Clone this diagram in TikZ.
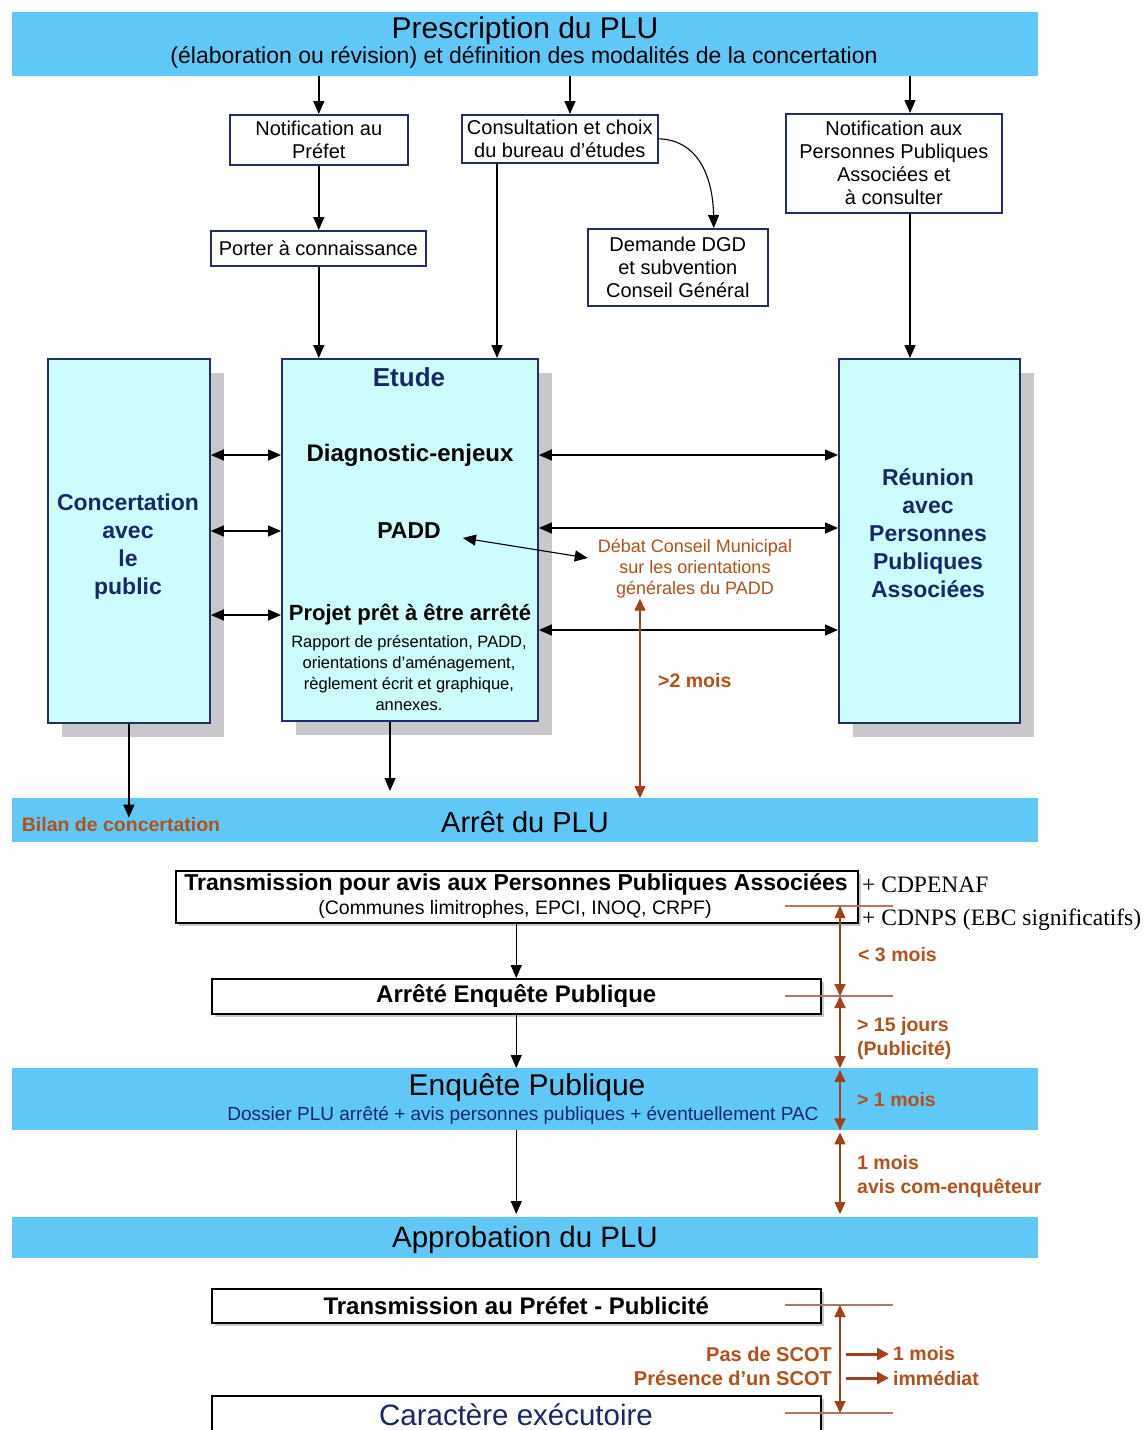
\documentclass[tikz,border=0pt]{standalone}
\usepackage{fontspec}
\setmainfont{Liberation Sans}
\newfontfamily\seriffam{Liberation Serif}
\usetikzlibrary{arrows.meta,shadows,calc}
\definecolor{bandblue}{RGB}{96,200,246}
\definecolor{cyanfill}{RGB}{204,252,252}
\definecolor{navy}{RGB}{25,40,105}
\definecolor{boxline}{RGB}{35,45,105}
\definecolor{brownarr}{RGB}{160,65,25}
\definecolor{browntxt}{RGB}{180,80,25}
\definecolor{tickcol}{RGB}{175,120,95}
\definecolor{shadowgray}{RGB}{200,200,204}
\newcommand\fsz[2]{\fontsize{#1}{#2}\selectfont}
\begin{document}
\begin{tikzpicture}[x=1pt,y=-1pt,
  band/.style={fill=bandblue, draw=none, inner sep=0, anchor=north west},
  smallbox/.style={draw=boxline, line width=1.6pt, fill=white, inner sep=0, anchor=north west, align=center, font=\fsz{20}{23}},
  bigbox/.style={draw=boxline, line width=1.8pt, fill=cyanfill, inner sep=0, anchor=north west,
     drop shadow={shadow xshift=14pt, shadow yshift=-14pt, fill=shadowgray, opacity=1}},
  flowbox/.style={draw=black, line width=1.5pt, fill=white, inner sep=0, anchor=north west, align=center,
     drop shadow={shadow xshift=3pt, shadow yshift=-3pt, fill=shadowgray, opacity=1}},
  txt/.style={inner sep=0, align=center},
  arr/.style={-{Triangle[length=13pt,width=11pt]}, line width=1.4pt},
  darr/.style={{Triangle[length=13pt,width=11pt]}-{Triangle[length=13pt,width=11pt]}, line width=1.4pt},
  barr/.style={draw=brownarr, {Triangle[length=12pt,width=11pt]}-{Triangle[length=12pt,width=11pt]}, line width=1.4pt},
  sarr/.style={draw=brownarr, -{Triangle[length=12pt,width=12pt]}, line width=3pt},
  tick/.style={draw=tickcol, line width=1.6pt},
  blab/.style={inner sep=0, anchor=west, align=left, text=browntxt, font=\bfseries\fsz{19.5}{24}}
]
\useasboundingbox (0,0) rectangle (1147,1430);
\fill[white] (0,0) rectangle (1147,1430);

% ---- Prescription band
\node[band, minimum width=1026, minimum height=64] (presc) at (12,12) {};
\node[txt, font=\fsz{30}{34}] (prescT) at (525,31) {Prescription du PLU};
\node[txt, font=\fsz{23}{26}] (prescS) at (524,57) {(élaboration ou révision) et définition des modalités de la concertation};

% ---- small boxes
\node[smallbox, minimum width=178, minimum height=50] (notifP) at (229,114) {Notification au\\Préfet};
\node[smallbox, minimum width=196, minimum height=48] (consult) at (461,114) {Consultation et choix\\du bureau d'études};
\node[smallbox, minimum width=216, minimum height=99] (notifPPA) at (785,113) {Notification aux\\Personnes Publiques\\Associées et\\à consulter};
\node[smallbox, minimum width=215, minimum height=35] (porter) at (210,230) {Porter à connaissance};
\node[smallbox, minimum width=180, minimum height=77] (demande) at (587,228) {Demande DGD\\et subvention\\Conseil Général};

% ---- big boxes
\node[bigbox, minimum width=162, minimum height=364] (conc) at (47,358) {};
\node[bigbox, minimum width=256, minimum height=362] (etude) at (281,358) {};
\node[bigbox, minimum width=181, minimum height=364] (reun) at (838,358) {};

\node[txt, font=\bfseries\fsz{23}{28}, text=navy] (concT) at (128,547) {Concertation\\avec\\le\\public};
\node[txt, font=\bfseries\fsz{23}{28}, text=navy] (reunT) at (928,533) {Réunion\\avec\\Personnes\\Publiques\\Associées};

\node[txt, font=\bfseries\fsz{26}{30}, text=navy] (etudeT) at (409,377) {Etude};
\node[txt, font=\bfseries\fsz{24}{26}] (diag) at (410,455) {Diagnostic-enjeux};
\node[txt, font=\bfseries\fsz{23}{26}] (padd) at (409,531) {PADD};
\node[txt, font=\bfseries\fsz{22}{26}] (projet) at (410,615) {Projet prêt à être arrêté};
\node[txt, font=\fsz{16.5}{21}] (rapport) at (409,673) {Rapport de présentation, PADD,\\orientations d'aménagement,\\règlement écrit et graphique,\\annexes.};

\node[txt, font=\fsz{18}{21}, text=browntxt] (debat) at (695,569) {Débat Conseil Municipal\\sur les orientations\\générales du PADD};
\node[blab] (deuxmois) at (658,681) {>2 mois};

% ---- Arrêt band
\node[band, minimum width=1026, minimum height=44] (arret) at (12,798) {};
\node[txt, font=\fsz{29}{32}] (arretT) at (525,822) {Arrêt du PLU};
\node[txt, font=\bfseries\fsz{19.5}{22}, text=browntxt] (bilan) at (121,825) {Bilan de concertation};

% ---- arrows top part
\draw[arr] (presc.south -| notifP.north) -- (notifP.north);
\draw[arr] (presc.south -| 570,0) -- (consult.north -| 570,0);
\draw[arr] (presc.south -| 910,0) -- (notifPPA.north -| 910,0);
\draw[arr] (notifP.south) -- (porter.north -| notifP.south);
\draw[arr, line width=1.1pt] (consult.east) .. controls (700,140) and (713,180) .. ($(demande.north)+(36,0)$);
\draw[arr] (porter.south -| notifP.south) -- (etude.north -| notifP.south);
\draw[arr] (consult.south -| 497,0) -- (etude.north -| 497,0);
\draw[arr] (notifPPA.south -| 910,0) -- (reun.north -| 910,0);

% double arrows
\draw[darr] (conc.east |- diag) -- (etude.west |- diag);
\draw[darr] (conc.east |- padd) -- (etude.west |- padd);
\draw[darr] (conc.east |- projet) -- (etude.west |- projet);
\draw[darr] (etude.east |- diag) -- (reun.west |- diag);
\draw[darr] ($(etude.east |- padd)+(0,-3)$) -- ($(reun.west |- padd)+(0,-3)$);
\draw[darr] ($(etude.east |- projet)+(0,15)$) -- ($(reun.west |- projet)+(0,15)$);
\draw[darr, line width=1.1pt] ($(padd.east)+(22,7)$) -- ($(debat.west)+(-10,-11)$);
\draw[barr] (debat.south -| 640,0) -- (arret.north -| 640,0);

\draw[arr] (conc.south) -- (conc.south |- bilan.north);
\draw[arr] (etude.south -| 390,0) -- ($(arret.north -| 390,0)+(0,-7)$);

% ---- Transmission PPA
\node[flowbox, minimum width=682, minimum height=52] (trans) at (175,870) {};
\node[txt, font=\bfseries\fsz{23}{26}] (transT) at (516,884) {Transmission pour avis aux Personnes Publiques Associées};
\node[txt, font=\fsz{19.5}{22}] (transS) at (515,909) {(Communes limitrophes, EPCI, INOQ, CRPF)};
\node[inner sep=0, anchor=west, font=\seriffam\fsz{23.5}{26}] (cdpenaf) at (862,885) {+ CDPENAF};
\node[inner sep=0, anchor=west, font=\seriffam\fsz{23.5}{26}] (cdnps) at (862,920) {+ CDNPS (EBC significatifs)};

% ---- Arrêté EP
\node[flowbox, minimum width=609, minimum height=35, font=\bfseries\fsz{24}{26}] (arrete) at (211,978) {Arrêté Enquête Publique};

% ---- Enquête band
\node[band, minimum width=1026, minimum height=62] (enq) at (12,1068) {};
\node[txt, font=\fsz{30}{32}] (enqT) at (527,1088) {Enquête Publique};
\node[txt, font=\fsz{19}{20}, text=navy] (enqS) at (523,1115) {Dossier PLU arrêté + avis personnes publiques + éventuellement PAC};

% ---- Approbation band
\node[band, minimum width=1026, minimum height=41] (approb) at (12,1217) {};
\node[txt, font=\fsz{29.5}{32}] (approbT) at (525,1240) {Approbation du PLU};

% ---- Transmission Préfet / Caractère exécutoire
\node[flowbox, minimum width=609, minimum height=34, font=\bfseries\fsz{24}{26}] (transP) at (211,1288) {Transmission au Préfet - Publicité};
\node[flowbox, minimum width=609, minimum height=60] (carac) at (211,1395) {};
\node[txt, font=\fsz{29.5}{32}, text=navy] (caracT) at (516,1415) {Caractère exécutoire};

% vertical flow arrows
\draw[arr] (trans.south -| arrete.north) -- (arrete.north);
\draw[arr] (arrete.south) -- (arrete.south |- enq.north);
\draw[arr] (enq.south -| arrete.south) -- ($(arrete.south |- approb.north)+(0,-3)$);

% ---- timeline (brown)
\coordinate (t1) at (840,906);
\coordinate (t2) at (840,996);
\coordinate (t3) at (840,1305);
\coordinate (t4) at (840,1413);
\draw[tick] ($(t1)+(-55,0)$) -- ($(t1)+(53,0)$);
\draw[tick] ($(t2)+(-55,0)$) -- ($(t2)+(53,0)$);
\draw[tick] ($(t3)+(-55,0)$) -- ($(t3)+(53,0)$);
\draw[tick] ($(t4)+(-55,0)$) -- ($(t4)+(53,0)$);
\draw[barr] (t1) -- (t2);
\draw[barr] (t2) -- (enq.north -| t2);
\draw[barr] ($(enq.north -| t2)+(0,2)$) -- (enq.south -| t2);
\draw[barr] ($(enq.south -| t2)+(0,2)$) -- ($(approb.north -| t2)+(0,-3)$);
\draw[barr] (t3) -- (t4);

\node[blab] (l3mois) at (858,955) {< 3 mois};
\node[blab] (l15j) at (857,1038) {> 15 jours\\(Publicité)};
\node[blab] (l1m) at (857,1100) {> 1 mois};
\node[blab] (l1mc) at (857,1176) {1 mois\\avis com-enquêteur};

\node[inner sep=0, anchor=east, text=browntxt, font=\bfseries\fsz{20}{22}] (pas) at (832,1354) {Pas de SCOT};
\node[inner sep=0, anchor=east, text=browntxt, font=\bfseries\fsz{20}{22}] (pres) at (832,1378) {Présence d'un SCOT};
\node[blab] (unmois) at (893,1354) {1 mois};
\node[blab] (immed) at (893,1378) {immédiat};
\draw[sarr] ($(pas.east)+(14,0)$) -- ($(unmois.west)+(-4,0)$);
\draw[sarr] ($(pres.east)+(14,0)$) -- ($(immed.west)+(-4,0)$);
\end{tikzpicture}
\end{document}
